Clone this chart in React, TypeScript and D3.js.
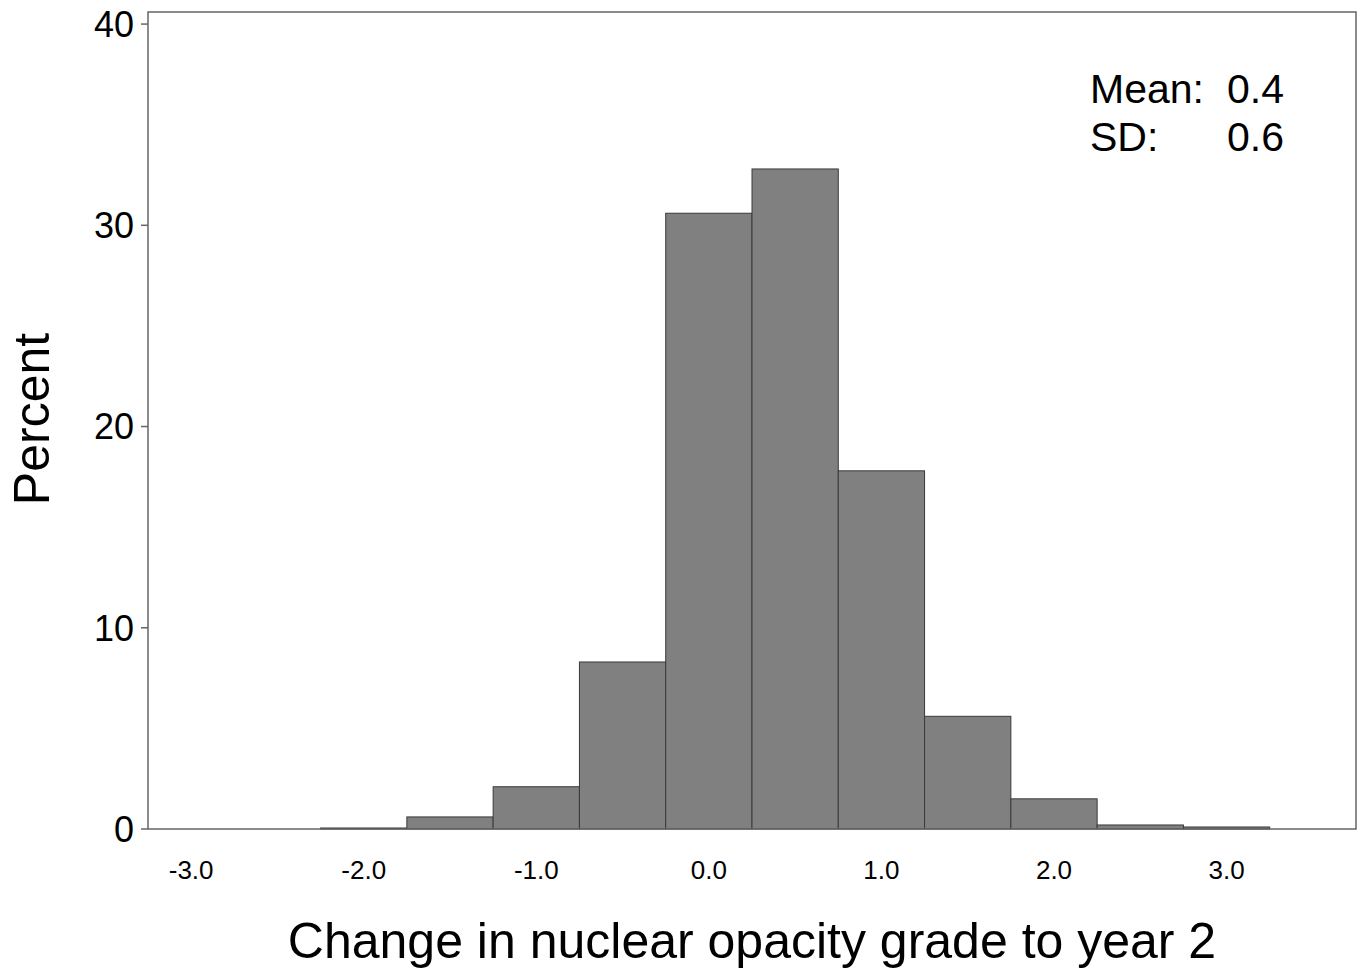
import React from 'react';
import * as d3 from 'd3';

// bin centres (width 0.5) and percent in each bin
const binCenters = [-3.0, -2.5, -2.0, -1.5, -1.0, -0.5, 0.0, 0.5, 1.0, 1.5, 2.0, 2.5, 3.0];
const percents = [0, 0, 0.05, 0.6, 2.1, 8.3, 30.6, 32.8, 17.8, 5.6, 1.5, 0.2, 0.1];
const xTicks = [-3, -2, -1, 0, 1, 2, 3];
const yTicks = [0, 10, 20, 30, 40];
const statLabels = ['Mean:', 'SD:'];
const statValues = ['0.4', '0.6'];

const binWidth = 0.5;
const font = '"Liberation Sans", Arial, sans-serif';

const margin = { left: 148, top: 12, right: 1356, bottom: 829 };

// plain hyphen for negatives, like the original
const fmt = (t: number) => d3.format('.1f')(t).replace('\u2212', '-');

export default function App() {
  const x = d3.scaleLinear().domain([-3.25, 3.75]).range([margin.left, margin.right]);
  const y = d3.scaleLinear().domain([0, 40.6]).range([margin.bottom, margin.top]);

  return (
    <svg width={1363} height={973} style={{ position: 'absolute', left: 0, top: 0 }}>
      <rect width={1363} height={973} fill="#fff" />
      {binCenters.map((c, i) => {
        const v = percents[i];
        if (v <= 0) return null;
        const x0 = x(c - binWidth / 2);
        const x1 = x(c + binWidth / 2);
        return (
          <rect key={i} x={x0} y={y(v)} width={x1 - x0} height={y(0) - y(v)}
            fill="#808080" stroke="#3a3a3a" strokeWidth={1} />
        );
      })}
      <rect x={margin.left} y={margin.top} width={margin.right - margin.left}
        height={margin.bottom - margin.top} fill="none" stroke="#666" strokeWidth={1.5} />
      {yTicks.map(t => (
        <g key={t}>
          <line x1={margin.left - 7} x2={margin.left} y1={y(t)} y2={y(t)} stroke="#666" strokeWidth={1.5} />
          <text x={134} y={y(t)} dy="0.36em" textAnchor="end" fontFamily={font} fontSize={36}>{t}</text>
        </g>
      ))}
      {xTicks.map(t => (
        <text key={t} x={x(t)} y={879} textAnchor="middle" fontFamily={font} fontSize={26}>
          {fmt(t)}
        </text>
      ))}
      <text x={752} y={958} textAnchor="middle" fontFamily={font} fontSize={50}>
        Change in nuclear opacity grade to year 2
      </text>
      <text transform="translate(49,419) rotate(-90)" textAnchor="middle" fontFamily={font} fontSize={50}>
        Percent
      </text>
      {statLabels.map((s, i) => (
        <g key={s}>
          <text x={1090} y={103 + i * 48} fontFamily={font} fontSize={41}>{s}</text>
          <text x={1284} y={103 + i * 48} textAnchor="end" fontFamily={font} fontSize={41}>{statValues[i]}</text>
        </g>
      ))}
    </svg>
  );
}
